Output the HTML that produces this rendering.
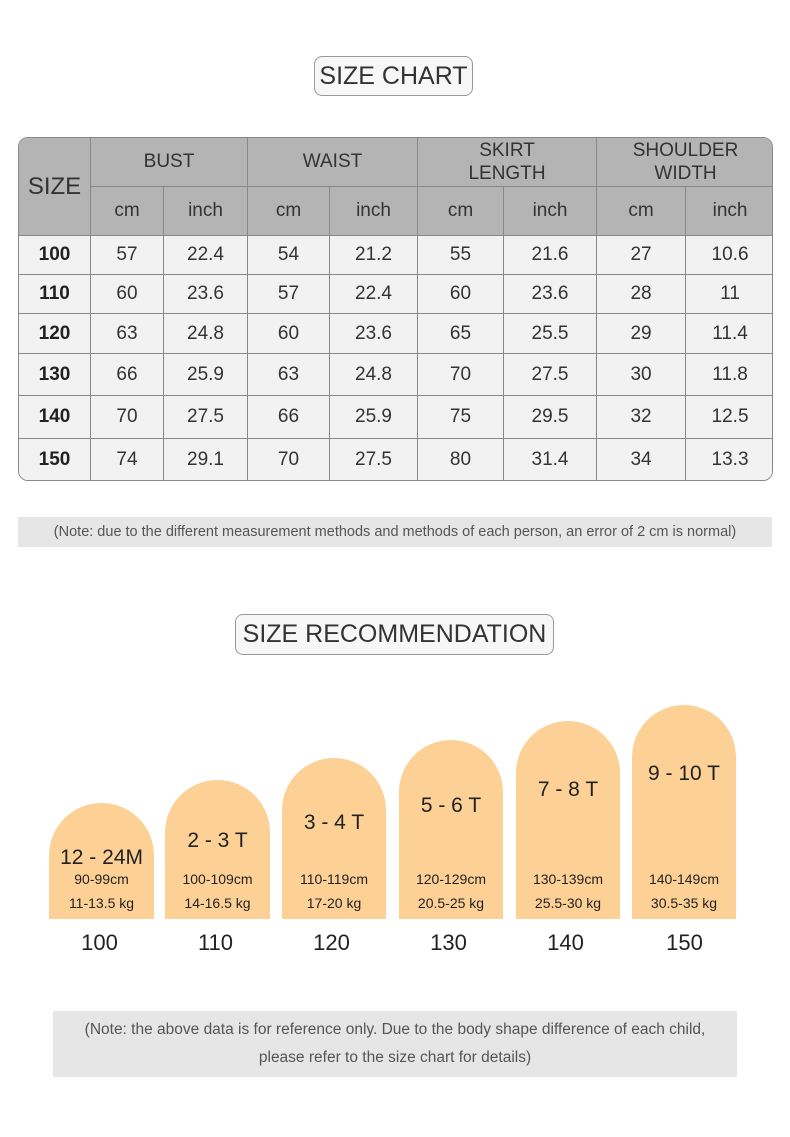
<!DOCTYPE html>
<html><head><style>
body{margin:0;width:790px;height:1137px;background:#fff;font-family:"Liberation Sans",sans-serif;color:#333;position:relative;overflow:hidden}
.t{position:absolute;border:1px solid #999;border-radius:8px;background:#f7f7f7;text-align:center;font-size:25px;color:#333;box-sizing:border-box}
table{position:absolute;border-collapse:collapse;font-size:19px;text-align:center;table-layout:fixed;width:756px}
.wrap{position:absolute;left:18px;top:137px;width:755px;height:344px;border:1px solid #888;border-radius:10px;overflow:hidden;box-sizing:border-box}
.wrap table{left:-1px;top:-1px}
td{border:1px solid #888;padding:0;color:#333}
.h td{background:#b4b4b4}
.d td{background:#f2f2f2}
.d td:first-child{font-weight:bold;color:#222}
.note{position:absolute;background:#e6e6e6;color:#555;text-align:center;font-size:14.5px}
.a{position:absolute;background:#fdd096;border-radius:53px 53px 0 0;text-align:center;color:#222;bottom:218px}
.a .b{position:absolute;left:0;right:0;font-size:21px}
.a .s{position:absolute;left:0;right:0;font-size:14px}
.l{position:absolute;top:930px;width:105px;text-align:center;font-size:22px;color:#222}
</style></head><body>
<div class="t" style="left:314px;top:56px;width:159px;height:40px;line-height:38px">SIZE CHART</div>
<div class="wrap"><table>
<colgroup><col style="width:72px"><col style="width:73px"><col style="width:84px"><col style="width:82px"><col style="width:88px"><col style="width:86px"><col style="width:93px"><col style="width:89px"><col style="width:89px"></colgroup>
<tr class="h" style="height:49px"><td rowspan="2" style="font-size:24px">SIZE</td><td colspan="2">BUST</td><td colspan="2">WAIST</td><td colspan="2" style="line-height:23px">SKIRT<br>LENGTH</td><td colspan="2" style="line-height:23px">SHOULDER<br>WIDTH</td></tr>
<tr class="h" style="height:49px"><td>cm</td><td>inch</td><td>cm</td><td>inch</td><td>cm</td><td>inch</td><td>cm</td><td>inch</td></tr>
<tr class="d" style="height:39px"><td>100</td><td>57</td><td>22.4</td><td>54</td><td>21.2</td><td>55</td><td>21.6</td><td>27</td><td>10.6</td></tr>
<tr class="d" style="height:39px"><td>110</td><td>60</td><td>23.6</td><td>57</td><td>22.4</td><td>60</td><td>23.6</td><td>28</td><td>11</td></tr>
<tr class="d" style="height:40px"><td>120</td><td>63</td><td>24.8</td><td>60</td><td>23.6</td><td>65</td><td>25.5</td><td>29</td><td>11.4</td></tr>
<tr class="d" style="height:42px"><td>130</td><td>66</td><td>25.9</td><td>63</td><td>24.8</td><td>70</td><td>27.5</td><td>30</td><td>11.8</td></tr>
<tr class="d" style="height:43px"><td>140</td><td>70</td><td>27.5</td><td>66</td><td>25.9</td><td>75</td><td>29.5</td><td>32</td><td>12.5</td></tr>
<tr class="d" style="height:43px"><td>150</td><td>74</td><td>29.1</td><td>70</td><td>27.5</td><td>80</td><td>31.4</td><td>34</td><td>13.3</td></tr>
</table></div>
<div class="note" style="left:18px;top:517px;width:754px;height:30px;line-height:30px">(Note: due to the different measurement methods and methods of each person, an error of 2 cm is normal)</div>
<div class="t" style="left:235px;top:614px;width:319px;height:41px;line-height:39px">SIZE RECOMMENDATION</div>

<div class="a" style="left:49px;width:105px;height:116px"><div class="b" style="top:43px">12 - 24M</div><div class="s" style="top:68px">90-99cm</div><div class="s" style="top:92px">11-13.5 kg</div></div>
<div class="a" style="left:165px;width:105px;height:139px"><div class="b" style="top:49px">2 - 3 T</div><div class="s" style="top:91px">100-109cm</div><div class="s" style="top:115px">14-16.5 kg</div></div>
<div class="a" style="left:282px;width:104px;height:161px"><div class="b" style="top:53px">3 - 4 T</div><div class="s" style="top:113px">110-119cm</div><div class="s" style="top:137px">17-20 kg</div></div>
<div class="a" style="left:399px;width:104px;height:179px"><div class="b" style="top:54px">5 - 6 T</div><div class="s" style="top:131px">120-129cm</div><div class="s" style="top:155px">20.5-25 kg</div></div>
<div class="a" style="left:516px;width:104px;height:198px"><div class="b" style="top:57px">7 - 8 T</div><div class="s" style="top:150px">130-139cm</div><div class="s" style="top:174px">25.5-30 kg</div></div>
<div class="a" style="left:632px;width:104px;height:214px"><div class="b" style="top:57px">9 - 10 T</div><div class="s" style="top:166px">140-149cm</div><div class="s" style="top:190px">30.5-35 kg</div></div>

<div class="l" style="left:47px">100</div>
<div class="l" style="left:163px">110</div>
<div class="l" style="left:279px">120</div>
<div class="l" style="left:396px">130</div>
<div class="l" style="left:513px">140</div>
<div class="l" style="left:632px">150</div>

<div class="note" style="left:53px;top:1011px;width:684px;height:66px;line-height:28px;padding-top:5px;box-sizing:border-box;font-size:15.5px">(Note: the above data is for reference only. Due to the body shape difference of each child,<br>please refer to the size chart for details)</div>
</body></html>
